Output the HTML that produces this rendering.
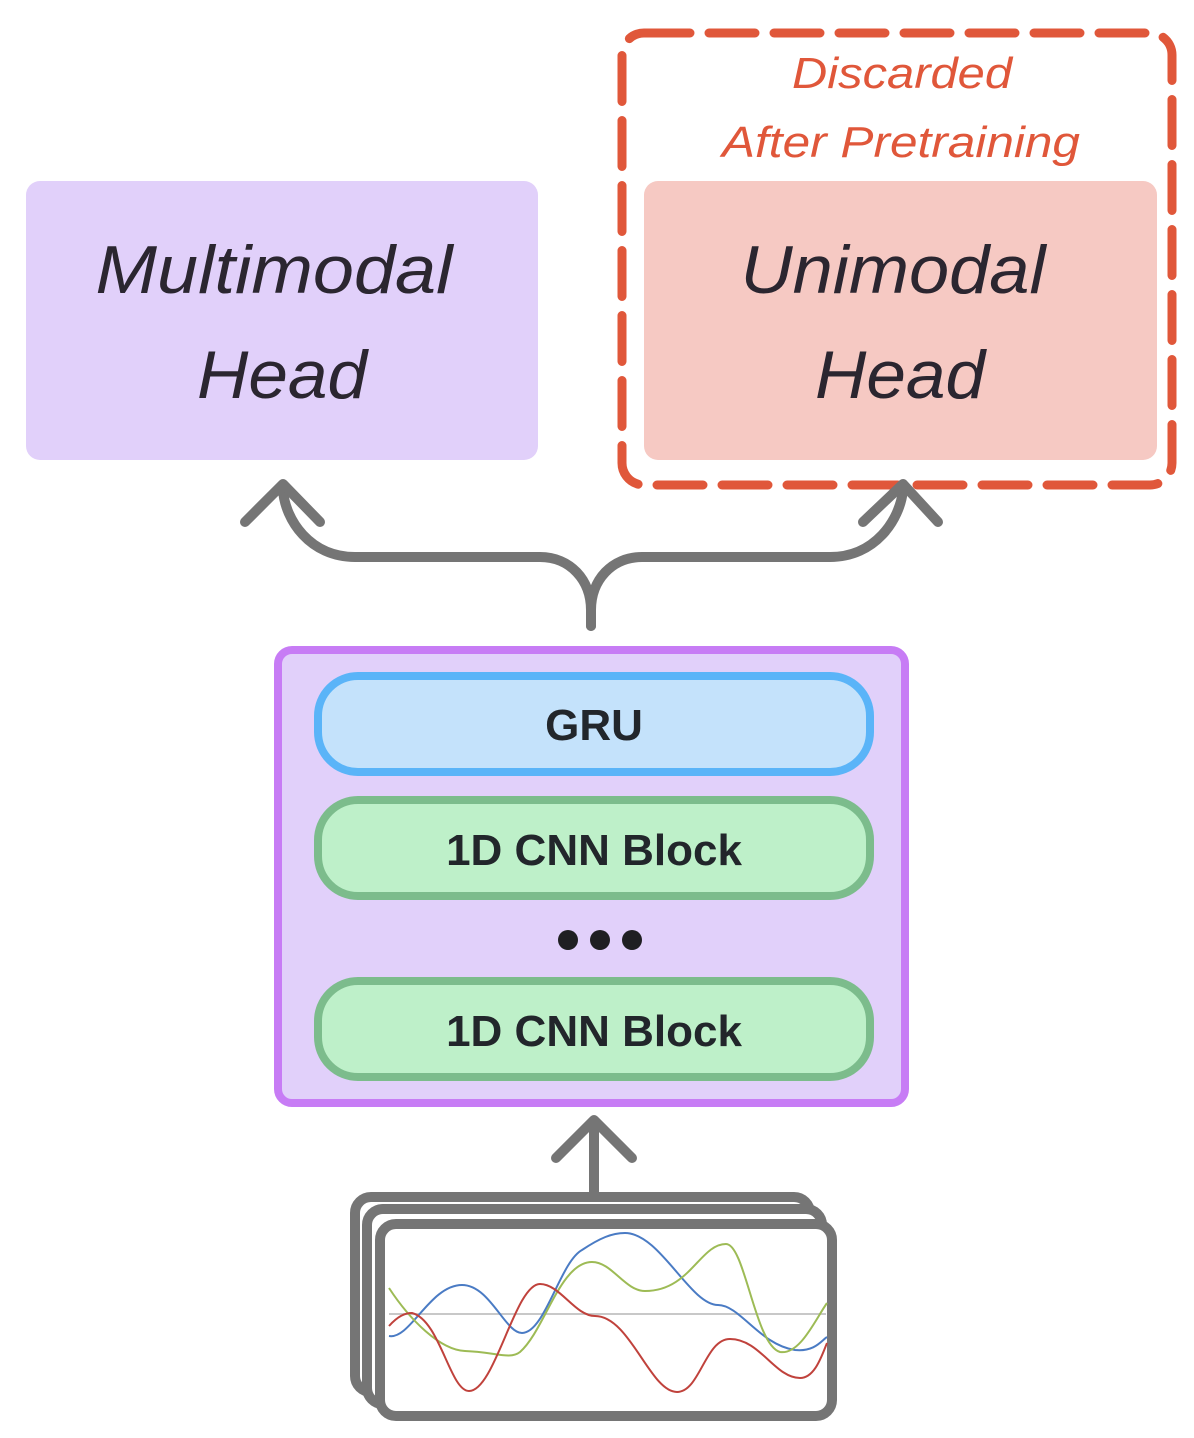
<!DOCTYPE html>
<html><head><style>html,body{margin:0;padding:0;background:#fff}svg{display:block}</style></head>
<body>
<svg width="1194" height="1438" viewBox="0 0 1194 1438" xmlns="http://www.w3.org/2000/svg" font-family="Liberation Sans, sans-serif">
<rect x="26" y="181" width="512" height="279" rx="14" fill="#e1d0fa"/>
<text x="274" y="293" font-size="68" font-style="italic" text-anchor="middle" fill="#2b2630" textLength="357" lengthAdjust="spacingAndGlyphs">Multimodal</text>
<text x="282" y="398" font-size="68" font-style="italic" text-anchor="middle" fill="#2b2630" textLength="170" lengthAdjust="spacingAndGlyphs">Head</text>
<rect x="622" y="33" width="550" height="452" rx="22" fill="none" stroke="#e0573a" stroke-width="9" stroke-dasharray="46 19" stroke-linecap="round"/>
<rect x="644" y="181" width="513" height="279" rx="14" fill="#f6c9c3"/>
<text x="902" y="88" font-size="44" font-style="italic" text-anchor="middle" fill="#e0573a" textLength="220" lengthAdjust="spacingAndGlyphs">Discarded</text>
<text x="901" y="157" font-size="44" font-style="italic" text-anchor="middle" fill="#e0573a" textLength="358" lengthAdjust="spacingAndGlyphs">After Pretraining</text>
<text x="893" y="293" font-size="68" font-style="italic" text-anchor="middle" fill="#2b2630" textLength="305" lengthAdjust="spacingAndGlyphs">Unimodal</text>
<text x="900" y="398" font-size="68" font-style="italic" text-anchor="middle" fill="#2b2630" textLength="170" lengthAdjust="spacingAndGlyphs">Head</text>
<g fill="none" stroke="#757575" stroke-width="10" stroke-linecap="round" stroke-linejoin="round">
<path d="M591 626 L591 610 C591 580 570 557 540 557 L355 557 C310 557 285 520 283 490"/>
<path d="M591 626 L591 610 C591 580 612 557 642 557 L830 557 C875 557 900 520 903 490"/>
<path d="M245 522 L283 484 L320 522"/>
<path d="M863 522 L903 484 L938 522"/>
<path d="M594 1195 L594 1122"/>
<path d="M556 1158 L594 1120 L632 1158"/>
</g>
<rect x="278" y="650" width="627" height="453" rx="14" fill="#e1d0fa" stroke="#c77cf5" stroke-width="8"/>
<rect x="318" y="676" width="552" height="96" rx="40" fill="#c4e2fb" stroke="#5ab4f8" stroke-width="8"/>
<rect x="318" y="800" width="552" height="96" rx="40" fill="#bef0c9" stroke="#7cbc8c" stroke-width="8"/>
<rect x="318" y="981" width="552" height="96" rx="40" fill="#bef0c9" stroke="#7cbc8c" stroke-width="8"/>
<g font-size="44" font-weight="bold" text-anchor="middle" fill="#22262b">
<text x="594" y="740">GRU</text>
<text x="594" y="865">1D CNN Block</text>
<text x="594" y="1046">1D CNN Block</text>
</g>
<circle cx="568" cy="940" r="10" fill="#1f1f22"/><circle cx="600" cy="940" r="10" fill="#1f1f22"/><circle cx="632" cy="940" r="10" fill="#1f1f22"/>
<g stroke="#757575" stroke-width="10" fill="#fff">
<rect x="355" y="1197" width="455" height="195" rx="16"/>
<rect x="367" y="1209" width="455" height="195" rx="16"/>
<rect x="380" y="1224" width="452" height="192" rx="16"/>
</g>
<line x1="389" y1="1314" x2="826" y2="1314" stroke="#c8c8c8" stroke-width="2"/>
<g fill="none" stroke-width="2">
<path stroke="#4a7bc4" d="M389 1336 C410 1340 430 1285 462 1285 C490 1285 505 1333 522 1333 C545 1333 560 1262 582 1250 C600 1238 612 1233 625 1233 C660 1233 690 1305 718 1305 C740 1305 760 1345 795 1350 C815 1352 822 1340 827 1337"/>
<path stroke="#9dbb55" d="M389 1288 C410 1320 440 1350 465 1351 C495 1352 510 1360 520 1352 C545 1330 560 1262 592 1262 C612 1262 625 1291 645 1291 C690 1291 700 1244 726 1244 C745 1244 755 1345 780 1352 C800 1355 815 1320 827 1303"/>
<path stroke="#c0423c" d="M389 1326 C398 1316 405 1313 412 1313 C440 1320 450 1391 469 1391 C495 1391 515 1284 540 1284 C560 1284 575 1316 595 1316 C630 1316 650 1392 677 1392 C700 1392 705 1339 730 1339 C760 1339 775 1378 800 1378 C815 1378 822 1355 827 1343"/>
</g>
</svg>
</body></html>
